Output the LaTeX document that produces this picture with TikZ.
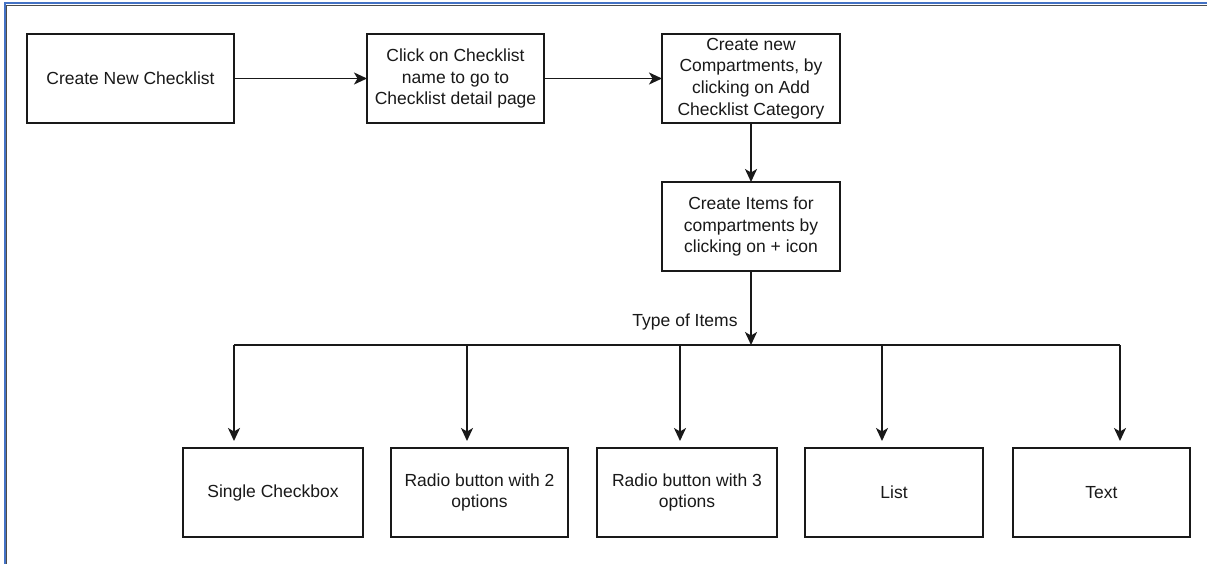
\documentclass[tikz,border=0pt]{standalone}
\usepackage{fontspec}
\setmainfont{Liberation Sans}
\usetikzlibrary{arrows.meta}
\begin{document}
\begin{tikzpicture}[x=1pt,y=-1pt,
  box/.style={draw=black!90,line width=1.8pt,fill=white,align=center,
    text=black!90,font=\fontsize{17.5}{21.7}\selectfont,
    minimum height=89pt,inner sep=0pt,outer sep=0pt},
  arr/.style={draw=black!90,line width=1.8pt,
    -{Stealth[length=13pt,width=12pt,inset=3.5pt]}},
  ln/.style={draw=black!90,line width=1.8pt},
  lbl/.style={text=black!90,font=\fontsize{17.5}{21.7}\selectfont,inner sep=0pt}]
  % canvas
  \useasboundingbox[fill=white] (0,0) rectangle (1207,564);
  % window frame along top and left
  \draw[color={rgb,255:red,68;green,114;blue,196},line width=2pt] (4.5,564) -- (4.5,3.3) -- (1207,3.3);
  \draw[color=black!70,line width=1.2pt] (6.3,564) -- (6.3,5.3) -- (1207,5.3);

  % top row
  \node[box,minimum width=207pt] (b1) at (130.5,78.5) {Create New Checklist};
  \node[box,minimum width=177pt] (b2) at (455.5,78.5) {Click on Checklist\\name to go to\\Checklist detail page};
  \node[box,minimum width=178pt] (b3) at (751,78.5) {Create new\\Compartments, by\\clicking on Add\\Checklist Category};
  \node[box,minimum width=178pt] (b4) at (751,226.5) {Create Items for\\compartments by\\clicking on + icon};

  % item types
  \node[box,minimum width=180pt] (s1) at (273,492.5) {Single Checkbox};
  \node[box,minimum width=177pt] (s2) at (479.5,492.5) {Radio button with 2\\options};
  \node[box,minimum width=180pt] (s3) at (687,492.5) {Radio button with 3\\options};
  \node[box,minimum width=178pt] (s4) at (894,492.5) {List};
  \node[box,minimum width=177pt] (s5) at (1101.5,492.5) {Text};

  % branch bar
  \coordinate (hub) at (751,345);
  \coordinate (j1) at (234,345);
  \coordinate (j2) at (467,345);
  \coordinate (j3) at (680,345);
  \coordinate (j4) at (882,345);
  \coordinate (j5) at (1120,345);
  \coordinate (t1) at (234,441);
  \coordinate (t2) at (467,441);
  \coordinate (t3) at (680,441);
  \coordinate (t4) at (882,441);
  \coordinate (t5) at (1120,441);

  \node[lbl] (typ) at (685,322) {Type of Items};

  % connectors
  \draw[arr] (b1) -- (b2);
  \draw[arr] (b2) -- (b3);
  \draw[arr] (b3) -- (b4);
  \draw[ln] (j1) -- (j5);
  \draw[arr] (b4) -- (hub);
  \draw[arr] (j1) -- (t1);
  \draw[arr] (j2) -- (t2);
  \draw[arr] (j3) -- (t3);
  \draw[arr] (j4) -- (t4);
  \draw[arr] (j5) -- (t5);
\end{tikzpicture}
\end{document}
